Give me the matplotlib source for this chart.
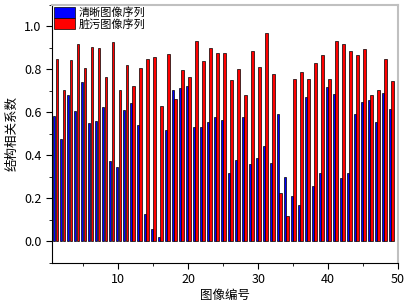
import numpy as np
import matplotlib
matplotlib.use("Agg")
import matplotlib.pyplot as plt
from matplotlib.ticker import MultipleLocator

plt.rcParams['font.family'] = ['Noto Sans CJK SC', 'DejaVu Sans']

idx = np.arange(1, 50)
clear = [0.581, 0.476, 0.679, 0.608, 0.743, 0.553, 0.558, 0.623, 0.375, 0.347,
         0.609, 0.642, 0.541, 0.127, 0.060, 0.020, 0.520, 0.702, 0.712, 0.723,
         0.533, 0.533, 0.557, 0.577, 0.567, 0.318, 0.379, 0.579, 0.361, 0.386,
         0.445, 0.367, 0.591, 0.301, 0.211, 0.168, 0.670, 0.260, 0.320, 0.720,
         0.686, 0.296, 0.320, 0.594, 0.648, 0.659, 0.557, 0.692, 0.616]
dirty = [0.848, 0.706, 0.844, 0.918, 0.805, 0.906, 0.898, 0.763, 0.926, 0.706,
         0.822, 0.723, 0.806, 0.848, 0.856, 0.628, 0.873, 0.662, 0.799, 0.763,
         0.930, 0.840, 0.898, 0.878, 0.875, 0.751, 0.800, 0.679, 0.886, 0.809,
         0.969, 0.780, 0.225, 0.120, 0.757, 0.788, 0.757, 0.830, 0.867, 0.754,
         0.930, 0.918, 0.884, 0.867, 0.893, 0.682, 0.702, 0.850, 0.747]

fig = plt.figure(figsize=(4.05, 3.04), dpi=100)
ax = fig.add_axes([0.128, 0.135, 0.855, 0.849])

w = 0.34
ax.bar(idx - 0.2, clear, width=w, color='#0000FF', edgecolor='black', linewidth=0.5, label='清晰图像序列')
ax.bar(idx + 0.2, dirty, width=w, color='#FF0000', edgecolor='black', linewidth=0.5, label='脏污图像序列')

ax.set_xlim(0.5, 50)
ax.set_ylim(-0.1, 1.1)
ax.xaxis.set_major_locator(MultipleLocator(10))
ax.xaxis.set_minor_locator(MultipleLocator(5))
ax.yaxis.set_minor_locator(MultipleLocator(0.1))
ax.set_yticks([0.0, 0.2, 0.4, 0.6, 0.8, 1.0])
ax.yaxis.set_major_formatter(matplotlib.ticker.FormatStrFormatter('%.1f'))
ax.tick_params(which='both', direction='out', labelsize=9)
ax.tick_params(which='major', length=4)
ax.tick_params(which='minor', length=2.5)
ax.tick_params(top=False, right=False)
for s in ['top', 'right']:
    ax.spines[s].set_color('#c0c0c0')
    ax.spines[s].set_linewidth(1.5)

ax.set_xlabel('图像编号', fontsize=9, labelpad=2)
ax.set_ylabel('结构相关系数', fontsize=9, labelpad=4)

leg = ax.legend(loc='upper left', bbox_to_anchor=(0.0, 1.0), frameon=False,
                fontsize=8, handlelength=1.9, handleheight=1.2, handletextpad=0.4,
                labelspacing=0.0, borderpad=0.05, borderaxespad=0.1)

fig.savefig('out.png', dpi=100)
